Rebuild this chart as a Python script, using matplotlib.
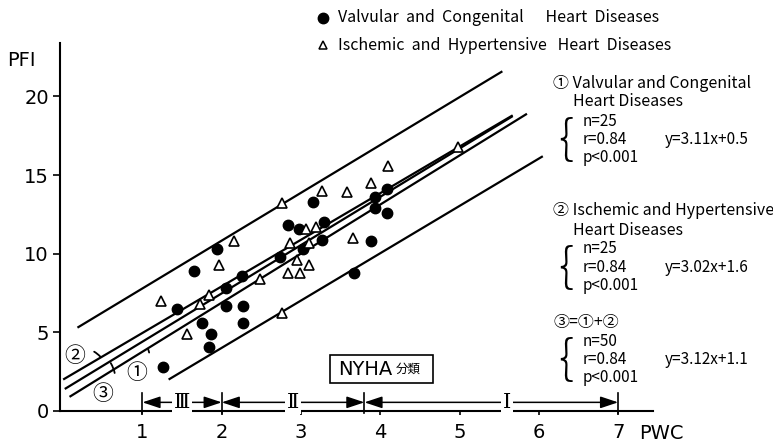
import matplotlib
matplotlib.use('Agg')
import matplotlib.pyplot as plt
from matplotlib.lines import Line2D
from matplotlib.patches import Rectangle

plt.rcParams['font.family'] = ['DejaVu Sans', 'Noto Sans CJK JP']

# Valvular and Congenital (filled circles)
vc_pwc = [1.26, 1.44, 1.65, 1.75, 1.87, 1.84, 1.94, 2.06, 2.06, 2.26, 2.27, 2.27, 2.73,
          2.84, 2.98, 3.03, 3.15, 3.29, 3.27, 3.67, 3.88, 3.93, 3.93, 4.08, 4.08]
vc_pfi = [2.8, 6.5, 8.9, 5.6, 4.9, 4.1, 10.3, 7.8, 6.7, 8.6, 6.7, 5.6, 9.8,
          11.8, 11.6, 10.3, 13.3, 12.0, 10.9, 8.8, 10.8, 13.6, 12.9, 14.1, 12.6]

# Ischemic and Hypertensive (open triangles)
ih_pwc = [1.24, 1.56, 1.73, 1.84, 1.96, 2.16, 2.48, 2.76, 2.76, 2.86, 2.84, 2.99,
          2.95, 3.10, 3.06, 3.19, 3.10, 3.27, 3.58, 3.66, 3.88, 4.10, 4.98]
ih_pfi = [7.0, 4.9, 6.8, 7.4, 9.3, 10.8, 8.4, 13.2, 6.2, 10.7, 8.8, 8.8,
          9.6, 9.3, 11.6, 11.7, 10.7, 14.0, 13.9, 11.0, 14.5, 15.6, 16.8]

# regression lines (end points)
line1_x, line1_y = [0.08, 5.85], [0.9, 18.9]    # (1)
line2_x, line2_y = [0.0, 5.67], [2.0, 18.8]     # (2)
line3_x, line3_y = [0.02, 5.67], [1.4, 18.75]   # (3)
upper_x, upper_y = [0.18, 5.54], [5.3, 21.6]
lower_x, lower_y = [1.33, 6.05], [2.0, 16.2]

# NYHA classes
nyha_edges = [1, 2, 3.8, 7]
nyha_labels = ['Ⅲ', 'Ⅱ', 'Ⅰ']
nyha_label_x = [1.5, 2.9, 5.6]

stats = [
    ('① Valvular and Congenital', 'Heart Diseases', 'n=25', 'r=0.84', 'p<0.001', 'y=3.11x+0.5'),
    ('② Ischemic and Hypertensive', 'Heart Diseases', 'n=25', 'r=0.84', 'p<0.001', 'y=3.02x+1.6'),
    ('③=①+②', None, 'n=50', 'r=0.84', 'p<0.001', 'y=3.12x+1.1'),
]

W, H = 773, 446
fig = plt.figure(figsize=(W / 100, H / 100), dpi=100)
ax = fig.add_axes([60 / W, 35 / H, 593 / W, 368 / H])
ax.set_xlim(-0.04, 7.44)
ax.set_ylim(0, 23.4)
for s in ['top', 'right']:
    ax.spines[s].set_visible(False)
for s in ['left', 'bottom']:
    ax.spines[s].set_linewidth(1.5)

ax.set_xticks(range(1, 8))
ax.set_yticks([0, 5, 10, 15, 20])
ax.tick_params(axis='y', direction='out', length=5, width=1.2, labelsize=14, pad=3)
ax.tick_params(axis='x', direction='out', length=3, width=1.2, labelsize=14, pad=6)

lw = 1.6
for xs, ys in [(line1_x, line1_y), (line2_x, line2_y), (line3_x, line3_y),
               (upper_x, upper_y), (lower_x, lower_y)]:
    ax.plot(xs, ys, color='black', lw=lw, solid_capstyle='butt')

ax.plot(vc_pwc, vc_pfi, 'o', ms=7.5, color='black', zorder=3)
ax.plot(ih_pwc, ih_pfi, '^', ms=7.5, mfc='white', mec='black', mew=1.2, zorder=3)

# circled labels for regression lines
tf = ['Noto Sans CJK JP']
cprops = dict(arrowstyle='-', lw=1.3, shrinkA=5, shrinkB=0)
ax.annotate('②', xy=(0.47, 3.45), xytext=(0.14, 3.5), fontsize=15, family=tf,
            ha='center', va='center',
            arrowprops=dict(connectionstyle='arc3,rad=-0.5', **cprops))
ax.annotate('①', xy=(1.07, 3.95), xytext=(0.93, 2.4), fontsize=15, family=tf,
            ha='center', va='center',
            arrowprops=dict(connectionstyle='arc3,rad=0.5', **cprops))
ax.annotate('③', xy=(0.6, 3.05), xytext=(0.5, 1.1), fontsize=15, family=tf,
            ha='center', va='center',
            arrowprops=dict(connectionstyle='arc3,rad=0.5', **cprops))

# NYHA class ranges
bar_y = 0.55
for e in nyha_edges:
    ax.plot([e, e], [-0.15, 1.15], color='black', lw=1.2, clip_on=False)
for i, lab in enumerate(nyha_labels):
    x0, x1 = nyha_edges[i], nyha_edges[i + 1]
    ax.annotate('', xy=(x0, bar_y), xytext=(x1, bar_y),
                arrowprops=dict(arrowstyle='<|-|>,head_length=0.9,head_width=0.3',
                                color='black', lw=1.1, mutation_scale=12,
                                shrinkA=0, shrinkB=0))
    ax.text(nyha_label_x[i], bar_y, lab, ha='center', va='center', fontsize=15,
            family=['DejaVu Serif', 'Noto Sans CJK JP'],
            bbox=dict(fc='white', ec='none', pad=1.5))

ax.add_patch(Rectangle((3.37, 1.78), 1.3, 1.78, fill=False, ec='black', lw=1.2))
ax.text(3.47, 2.67, 'NYHA', ha='left', va='center', fontsize=14)
ax.text(4.2, 2.62, '分類', ha='left', va='center', fontsize=9, family=tf)

ax.text(-0.71, 22.3, 'PFI', ha='left', va='center', fontsize=14, clip_on=False)
ax.text(7.26, -1.45, 'PWC', ha='left', va='center', fontsize=14, clip_on=False)

# legend
nf = ['Liberation Sans Narrow', 'Noto Sans CJK JP']
fig.add_artist(Line2D([323 / W], [1 - 18 / H], marker='o', ms=7.5, color='black'))
fig.add_artist(Line2D([323 / W], [1 - 45 / H], marker='^', ms=6, mfc='white',
                      mec='black', mew=1.1))
fig.text(338 / W, 1 - 18 / H, 'Valvular  and  Congenital      Heart  Diseases',
         ha='left', va='center', fontsize=11.5, family=nf)
fig.text(338 / W, 1 - 45 / H, 'Ischemic  and  Hypertensive   Heart  Diseases',
         ha='left', va='center', fontsize=11.5, family=nf)

# statistics blocks on the right
block_top = [83, 211, 322]
for (t1, t2, n, r, p, eq), y0 in zip(stats, block_top):
    fig.text(553 / W, 1 - y0 / H, t1, ha='left', va='center', fontsize=11.5, family=nf)
    y = y0
    if t2:
        y += 19
        fig.text(573 / W, 1 - y / H, t2, ha='left', va='center', fontsize=11.5, family=nf)
    ys = [y + 19, y + 38, y + 56]
    for txt, yy in zip([n, r, p], ys):
        fig.text(583 / W, 1 - yy / H, txt, ha='left', va='center', fontsize=11, family=nf)
    fig.text(665 / W, 1 - ys[1] / H, eq, ha='left', va='center', fontsize=11, family=nf)
    fig.text(566 / W, 1 - (ys[1] + 1) / H, '{', ha='center', va='center', fontsize=34,
             family=nf, fontweight='light')

fig.savefig('out.png', dpi=100, facecolor='white')
